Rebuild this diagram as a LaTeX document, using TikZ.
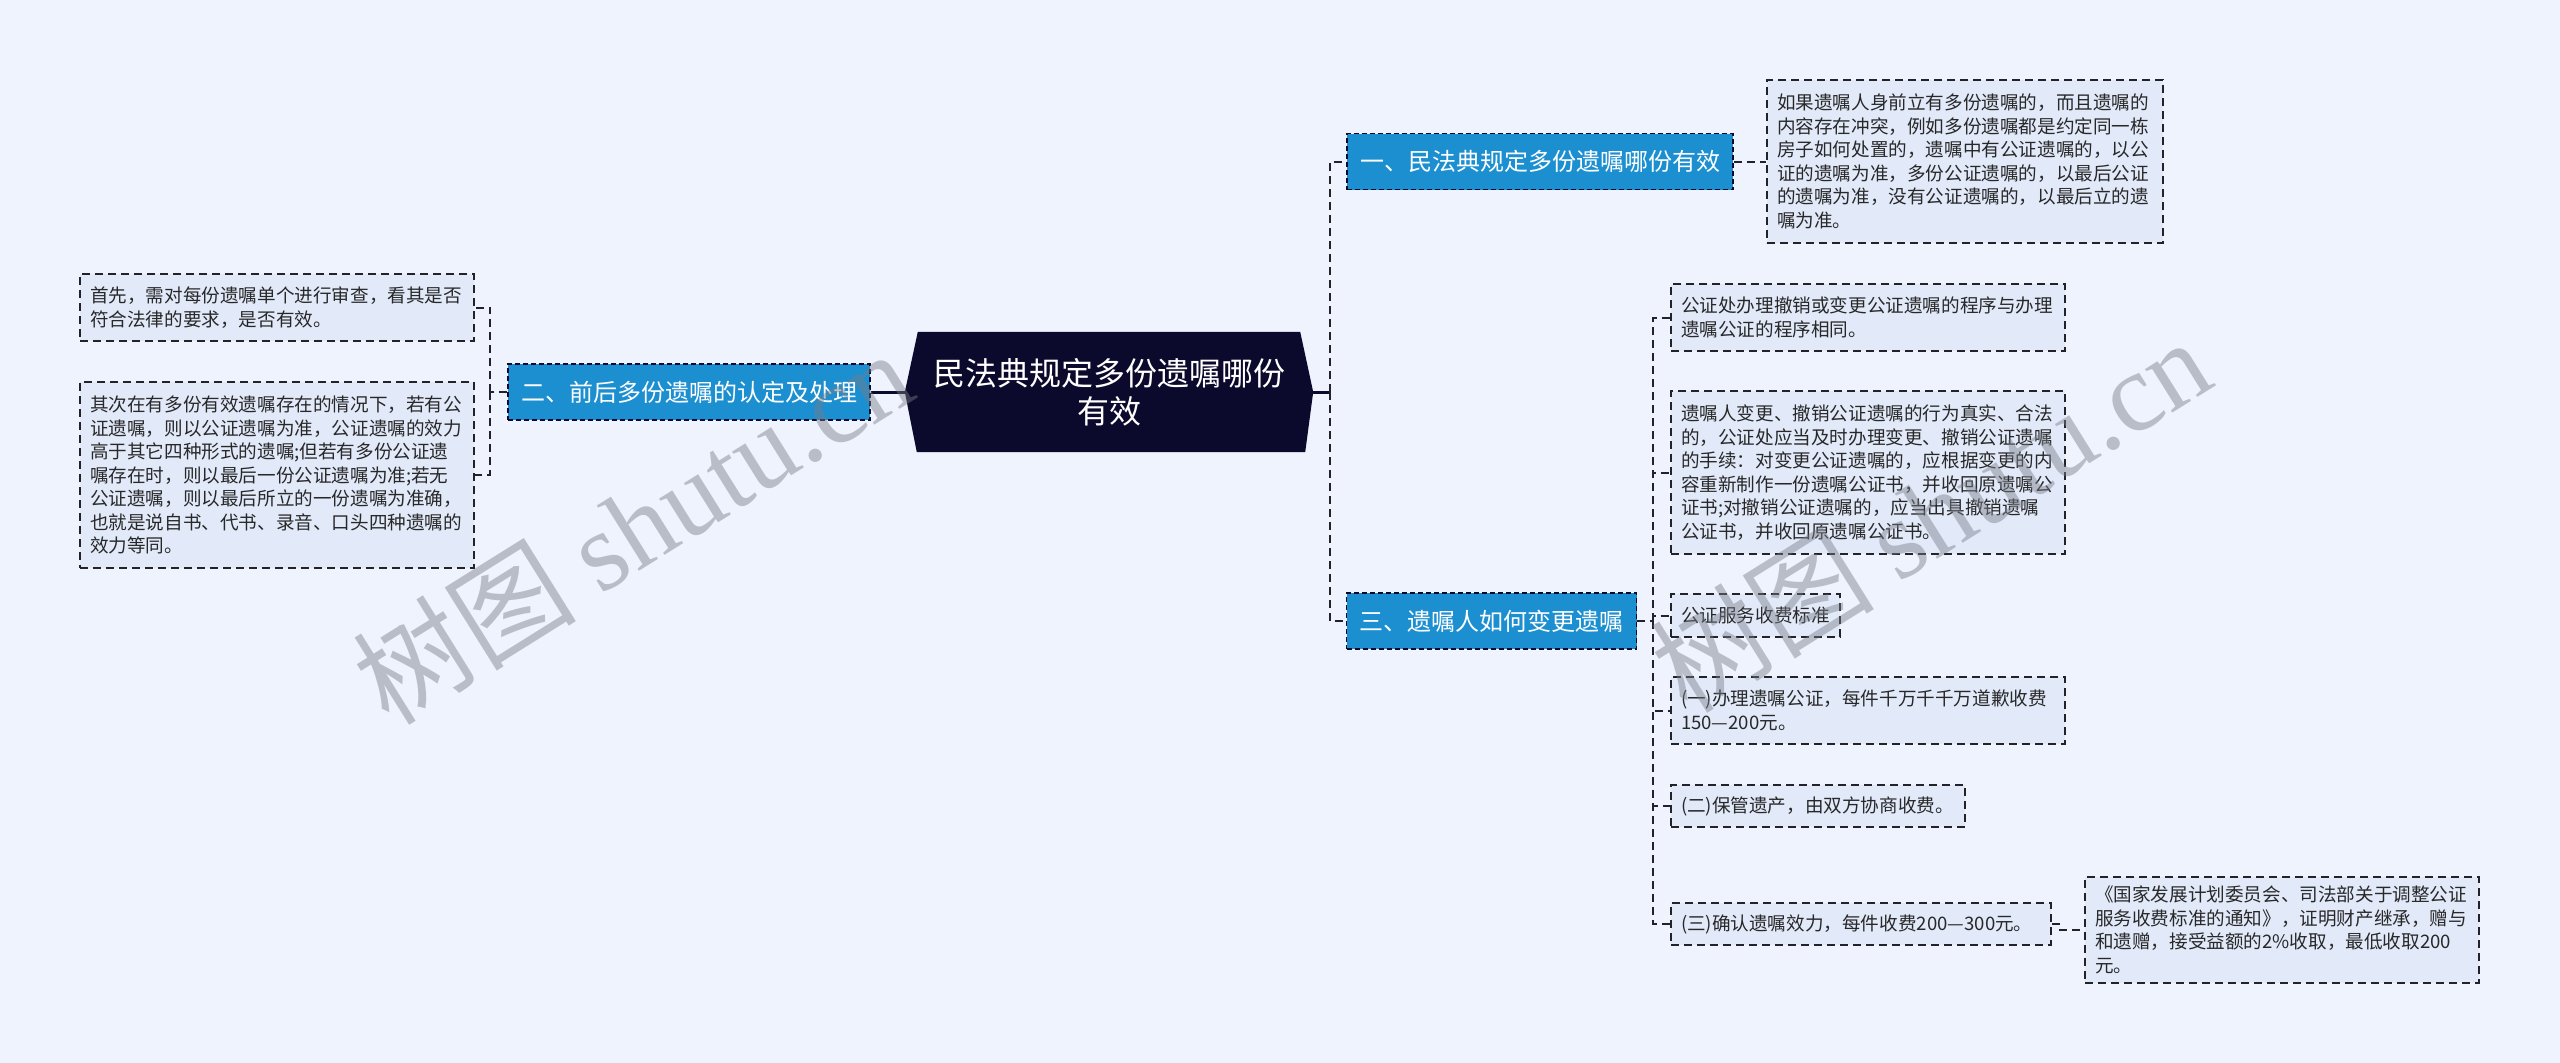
\documentclass[tikz,border=0pt]{standalone}
\usepackage{fontspec}
\setmainfont{Noto Sans CJK SC}
\newfontfamily\wmlatin{Liberation Serif}
\usetikzlibrary{backgrounds,calc}
\definecolor{bgc}{RGB}{238,243,253}
\definecolor{childfill}{RGB}{226,234,250}
\definecolor{bluefill}{RGB}{28,143,209}
\definecolor{navy}{RGB}{12,10,44}
\definecolor{linec}{RGB}{34,34,40}
\definecolor{txt}{RGB}{40,40,40}
\definecolor{wm}{RGB}{120,125,135}
\tikzset{
  dpat/.style={dash pattern=on 8pt off 5pt},
  dconn/.style={draw=linec, line width=2, dpat},
  sconn/.style={draw=navy, line width=3},
  leaf/.style={draw=linec, line width=2, dpat, fill=childfill, text=txt,
    font=\fontsize{18.6}{23.5}\selectfont, align=left, inner xsep=10, inner ysep=0, anchor=center},
  branch/.style={draw=navy, line width=1.5, dash pattern=on 5pt off 3pt, fill=bluefill, text=white,
    font=\fontsize{24}{28}\selectfont, inner xsep=13, inner ysep=0, minimum height=56},
  ctrtext/.style={text=white, font=\fontsize{32}{38}\selectfont, align=center,
    minimum width=408, minimum height=120, inner sep=0},
  wmark/.style={text=wm, text opacity=0.45, rotate=32, font=\fontsize{112}{112}\selectfont}
}
\begin{document}
\begin{tikzpicture}[x=1pt,y=-1pt]
\useasboundingbox (0,0) rectangle (2560,1063);
\begin{pgfonlayer}{background}
\fill[bgc] (0,0) rectangle (2560,1063);
\end{pgfonlayer}

% center
\node[ctrtext] (ctr) at (1109,392) {民法典规定多份遗嘱哪份\\有效};
\begin{pgfonlayer}{background}
\fill[navy] (ctr.west) -- ($(ctr.north west)+(13,0)$) -- ($(ctr.north east)+(-13,0)$) -- (ctr.east)
  -- ($(ctr.south east)+(-8,0)$) -- ($(ctr.south west)+(12,0)$) -- cycle;
\end{pgfonlayer}

% branches
\node[branch] (b1) at (1540,161.5) {一、民法典规定多份遗嘱哪份有效};
\node[branch] (b2) at (689,392) {二、前后多份遗嘱的认定及处理};
\node[branch] (b3) at (1491.5,621) {三、遗嘱人如何变更遗嘱};

% leaves
\node[leaf, text width=376, minimum height=163] (r1) at (1965,161.5) {如果遗嘱人身前立有多份遗嘱的，而且遗嘱的\\内容存在冲突，例如多份遗嘱都是约定同一栋\\房子如何处置的，遗嘱中有公证遗嘱的，以公\\证的遗嘱为准，多份公证遗嘱的，以最后公证\\的遗嘱为准，没有公证遗嘱的，以最后立的遗\\嘱为准。};
\node[leaf, text width=374, minimum height=67] (l1) at (277,307.5) {首先，需对每份遗嘱单个进行审查，看其是否\\符合法律的要求，是否有效。};
\node[leaf, text width=374, minimum height=186] (l2) at (277,475) {其次在有多份有效遗嘱存在的情况下，若有公\\证遗嘱，则以公证遗嘱为准，公证遗嘱的效力\\高于其它四种形式的遗嘱;但若有多份公证遗\\嘱存在时，则以最后一份公证遗嘱为准;若无\\公证遗嘱，则以最后所立的一份遗嘱为准确，\\也就是说自书、代书、录音、口头四种遗嘱的\\效力等同。};
\node[leaf, text width=374, minimum height=67] (r3a) at (1868,317.5) {公证处办理撤销或变更公证遗嘱的程序与办理\\遗嘱公证的程序相同。};
\node[leaf, text width=374, minimum height=163] (r3b) at (1868,472.5) {遗嘱人变更、撤销公证遗嘱的行为真实、合法\\的，公证处应当及时办理变更、撤销公证遗嘱\\的手续：对变更公证遗嘱的，应根据变更的内\\容重新制作一份遗嘱公证书，并收回原遗嘱公\\证书;对撤销公证遗嘱的，应当出具撤销遗嘱\\公证书，并收回原遗嘱公证书。};
\node[leaf, text width=149, minimum height=43] (r3c) at (1755.5,615.5) {公证服务收费标准};
\node[leaf, text width=374, minimum height=67] (r3d) at (1868,710.5) {(一)办理遗嘱公证，每件千万千千万道歉收费\\150—200元。};
\node[leaf, text width=274, minimum height=42] (r3e) at (1818,806) {(二)保管遗产，由双方协商收费。};
\node[leaf, text width=360, minimum height=42] (r3f) at (1861,924) {(三)确认遗嘱效力，每件收费200—300元。};
\node[leaf, text width=374, minimum height=106] (r3g) at (2282,930) {《国家发展计划委员会、司法部关于调整公证\\服务收费标准的通知》，证明财产继承，赠与\\和遗赠，接受益额的2\%收取，最低收取200\\元。};

% connectors
\coordinate (rt) at (1330,392);
\coordinate (lt) at (490,392);
\coordinate (t3) at (1653,621);
\draw[sconn] (ctr.east) -- (rt);
\draw[dconn] (rt) |- (b1.west);
\draw[dconn] (rt) |- (b3.west);
\draw[sconn] (ctr.west) -- (b2.east);
\draw[dconn] (b2.west) -- (lt);
\draw[dconn] (lt) |- (l1.east);
\draw[dconn] (lt) |- (l2.east);
\draw[dconn] (b1.east) -- (r1.west);
\draw[dconn] (b3.east) -- (t3);
\foreach \n in {r3a,r3b,r3c,r3d,r3e,r3f} \draw[dconn] (t3) |- (\n.west);
\draw[dconn] (r3f.east) -- ++(8,0) |- (r3g.west);

% watermarks
\node[wmark] (wm1) at (632,526) {树图 {\wmlatin shutu.cn}};
\node[wmark] (wm2) at (1930,514) {树图 {\wmlatin shutu.cn}};
\end{tikzpicture}
\end{document}
